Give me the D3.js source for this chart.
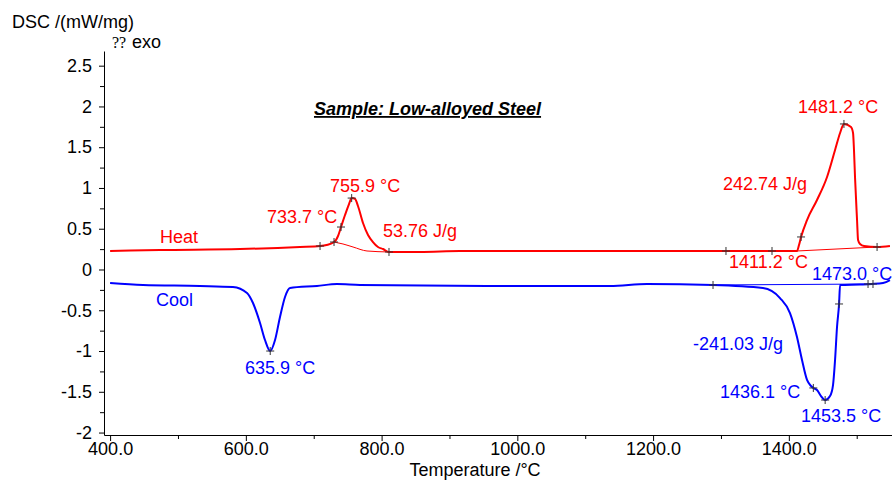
<!DOCTYPE html>
<html>
<head>
<meta charset="utf-8">
<script src="https://cdn.jsdelivr.net/npm/d3@7"></script>
<style>
  body { margin: 0; background: #fff; }
  svg { display: block; font-family: "Liberation Sans", Arial, sans-serif; }
</style>
</head>
<body>
<svg id="chart" width="892" height="481"></svg>
<script>
// heating curve (temperature °C, DSC mW/mg)
const heatT = [400, 473.5, 591.4, 679.8, 709.3, 729.9, 735.8, 740.2, 746.1, 752, 755.9, 760.8, 765.2, 772.6, 780, 787.3, 794.7, 802.1, 810.9, 856.6, 915.5, 1062.9, 1180.7, 1307.4, 1375.2, 1412, 1415, 1418, 1426.8, 1441.5, 1456.3, 1468.1, 1475.5, 1481.2, 1491.6, 1494.6, 1496, 1497.5, 1500.5, 1502, 1504.9, 1510.8, 1530, 1549];
const heatV = [0.227, 0.239, 0.251, 0.276, 0.288, 0.337, 0.411, 0.521, 0.668, 0.803, 0.876, 0.865, 0.779, 0.570, 0.423, 0.337, 0.276, 0.251, 0.215, 0.215, 0.227, 0.227, 0.227, 0.227, 0.227, 0.227, 0.30, 0.399, 0.607, 0.852, 1.135, 1.466, 1.674, 1.785, 1.748, 1.674, 1.466, 1.135, 0.607, 0.362, 0.313, 0.288, 0.276, 0.288];

// cooling curve
const coolT = [400, 448.5, 532.4, 581, 601.7, 610.5, 620.9, 628.2, 635.9, 643, 650.3, 657.7, 665.1, 704.8, 734.3, 768.2, 955.3, 1136.6, 1191, 1288.3, 1361.9, 1387, 1401.7, 1412, 1419.4, 1426.8, 1432.7, 1436.1, 1441.5, 1447.4, 1453.5, 1460.7, 1465.1, 1468.1, 1471, 1474, 1475.5, 1504.9, 1522.6, 1538.8, 1549];
const coolV = [-0.166, -0.190, -0.202, -0.215, -0.288, -0.411, -0.656, -0.865, -1.0, -0.865, -0.583, -0.337, -0.227, -0.202, -0.178, -0.190, -0.202, -0.202, -0.178, -0.190, -0.227, -0.350, -0.534, -0.828, -1.110, -1.355, -1.429, -1.453, -1.478, -1.552, -1.601, -1.552, -1.417, -1.110, -0.705, -0.423, -0.190, -0.184, -0.178, -0.166, -0.129];

// evaluation baselines
const heatBase1T = [729.9, 743.1, 757.9, 778.5, 810.9];
const heatBase1V = [0.337, 0.313, 0.276, 0.227, 0.215];
const heatBase2T = [1412, 1530];
const heatBase2V = [0.227, 0.276];
const coolBaseT = [1288.3, 1522.6];
const coolBaseV = [-0.190, -0.178];

// evaluation markers (+)
const heatMarkT = [709.3, 729.9, 740.2, 755.9, 810.9, 1307.4, 1375.2, 1418, 1481.2, 1530];
const heatMarkV = [0.288, 0.337, 0.521, 0.876, 0.215, 0.227, 0.227, 0.399, 1.785, 0.276];
const coolMarkT = [635.9, 1288.3, 1436.1, 1453.5, 1474, 1516.7, 1524];
const coolMarkV = [-1.0, -0.190, -1.453, -1.601, -0.423, -0.178, -0.178];

// annotations: text, anchor temperature, anchor value, series
const labelText = ['Heat', 'Cool', '755.9 °C', '733.7 °C', '53.76 J/g', '1481.2 °C', '242.74 J/g', '1411.2 °C', '1473.0 °C', '-241.03 J/g', '1436.1 °C', '1453.5 °C', '635.9 °C'];
const labelT = [473.5, 467.6, 724, 631.2, 802, 1413.5, 1303, 1312, 1434, 1258.8, 1298.6, 1418, 598.8];
const labelV = [0.325, -0.448, 0.95, 0.57, 0.40, 1.92, 0.975, 0.02, -0.13, -0.99, -1.58, -1.87, -1.28];
const labelSeries = ['heat', 'cool', 'heat', 'heat', 'heat', 'heat', 'heat', 'heat', 'cool', 'cool', 'cool', 'cool', 'cool'];

const xTicks = [400, 600, 800, 1000, 1200, 1400];
const xMinor = [500, 700, 900, 1100, 1300, 1500];
const yTicks = [2.5, 2, 1.5, 1, 0.5, 0, -0.5, -1, -1.5, -2];
const yMinor = [2.25, 1.75, 1.25, 0.75, 0.25, -0.25, -0.75, -1.25, -1.75];

const colors = { heat: '#ff0000', cool: '#0000ff' };

const svg = d3.select('#chart');
const x = d3.scaleLinear().domain([391, 1552]).range([104, 892]);
const y = d3.scaleLinear().domain([-2.03, 2.68]).range([435, 51]);

const line = d3.line()
    .x(d => x(d[0]))
    .y(d => y(d[1]))
    .curve(d3.curveMonotoneX);

const zip = (a, b) => a.map((v, i) => [v, b[i]]);

// axes
svg.append('g')
    .attr('transform', 'translate(0,435)')
    .call(d3.axisBottom(x).tickValues(xMinor).tickSize(4).tickFormat(''))
    .call(g => g.select('.domain').remove());
const xAxis = svg.append('g')
    .attr('transform', 'translate(0,435)')
    .call(d3.axisBottom(x).tickValues(xTicks).tickSize(6).tickSizeOuter(0).tickFormat(d3.format('.1f')));
xAxis.selectAll('text').attr('font-size', 18).attr('font-family', '"Liberation Sans", Arial').attr('fill', '#000').attr('y', 7);

svg.append('g')
    .attr('transform', 'translate(104,0)')
    .call(d3.axisLeft(y).tickValues(yMinor).tickSize(4).tickFormat(''))
    .call(g => g.select('.domain').remove());
const yAxis = svg.append('g')
    .attr('transform', 'translate(104,0)')
    .call(d3.axisLeft(y).tickValues(yTicks).tickSize(5).tickSizeOuter(0).tickFormat(d => d));
yAxis.selectAll('text').attr('font-size', 18).attr('font-family', '"Liberation Sans", Arial').attr('fill', '#000').attr('x', -12);
svg.selectAll('.domain, .tick line').attr('stroke', '#000');

// axis titles
svg.append('text').attr('x', 12).attr('y', 28).attr('font-size', 18).text('DSC /(mW/mg)');
svg.append('text').attr('x', 112).attr('y', 48).attr('font-size', 16)
    .attr('font-family', '"Liberation Serif", serif').text('??');
svg.append('text').attr('x', 132).attr('y', 48).attr('font-size', 18).text('exo');
svg.append('text').attr('x', 475).attr('y', 476).attr('font-size', 18)
    .attr('text-anchor', 'middle').text('Temperature /°C');

// title
svg.append('text').attr('x', x(700.4)).attr('y', y(1.895))
    .attr('font-size', 18).attr('font-weight', 'bold').attr('font-style', 'italic')
    .attr('text-decoration', 'underline').text('Sample: Low-alloyed Steel');

// baselines
[[heatBase1T, heatBase1V, 'heat'], [heatBase2T, heatBase2V, 'heat'], [coolBaseT, coolBaseV, 'cool']]
  .forEach(([t, v, s]) => {
    svg.append('path').datum(zip(t, v))
        .attr('fill', 'none').attr('stroke', colors[s]).attr('stroke-width', 1)
        .attr('d', line);
  });

// curves
svg.append('path').datum(zip(heatT, heatV))
    .attr('fill', 'none').attr('stroke', colors.heat).attr('stroke-width', 2).attr('d', line);
svg.append('path').datum(zip(coolT, coolV))
    .attr('fill', 'none').attr('stroke', colors.cool).attr('stroke-width', 2).attr('d', line);

// markers
const marks = zip(heatMarkT, heatMarkV).concat(zip(coolMarkT, coolMarkV));
svg.append('g').selectAll('path').data(marks).join('path')
    .attr('d', d => `M${x(d[0]) - 4},${y(d[1])}h8M${x(d[0])},${y(d[1]) - 4}v8`)
    .attr('stroke', '#333').attr('stroke-width', 1);

// labels
svg.append('g').selectAll('text').data(labelText).join('text')
    .attr('x', (d, i) => x(labelT[i]))
    .attr('y', (d, i) => y(labelV[i]))
    .attr('font-size', 18)
    .attr('fill', (d, i) => colors[labelSeries[i]])
    .text(d => d);
</script>
</body>
</html>
